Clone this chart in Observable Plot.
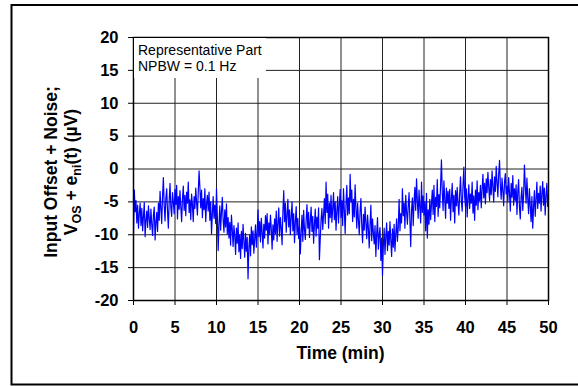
<!DOCTYPE html>
<html><head><meta charset="utf-8">
<script src="https://cdn.jsdelivr.net/npm/d3@7"></script>
<script src="https://cdn.jsdelivr.net/npm/@observablehq/plot@0.6"></script>
<style>body{margin:0;background:#fff;overflow:hidden}</style>
</head><body><div id="chart"></div>
<script>
// sampling of the trace (minutes)
const timeStart = 0;
const timeStep = 0.1;
// Input offset + noise (µV), one row per minute
const noiseValues = [
 -9.8,-3.2,-6.5,-4.8,-8.2,-5.5,-9.0,-6.8,-5.2,-8.6,
 -6.0,-9.4,-7.2,-5.1,-10.3,-7.8,-6.4,-8.9,-5.6,-7.5,
 -9.2,-6.1,-8.4,-10.1,-7.0,-5.8,-10.8,-8.2,-6.6,-9.5,
 -5.2,-7.8,-3.4,-6.0,-8.3,-4.1,-1.3,-5.6,-7.9,-4.4,
 -3.0,-6.5,-9.0,-4.8,-2.2,-5.9,-7.2,-3.6,-5.0,-6.8,
 -3.1,-5.4,-2.5,-7.6,-4.2,-6.1,-3.3,-5.8,-8.0,-4.5,
 -2.6,-6.3,-4.0,-7.1,-3.5,-5.2,-2.0,-6.6,-4.7,-7.7,
 -3.8,-5.5,-8.0,-4.2,-6.0,-2.9,-5.1,-7.0,-3.6,-0.3,
 -2.8,-5.9,-3.2,-7.4,-4.5,-6.2,-3.0,-8.0,-5.3,-4.0,
 -6.4,-3.5,-7.8,-5.0,-9.9,-6.8,-4.2,-7.5,-5.5,-8.3,
 -3.0,-7.2,-12.4,-8.5,-5.6,-9.3,-6.5,-4.3,-7.8,-9.6,
 -6.2,-8.8,-5.3,-9.9,-7.4,-10.5,-8.1,-11.6,-7.0,-9.2,
 -11.8,-8.6,-10.2,-13.0,-9.0,-11.3,-8.2,-12.6,-10.0,-13.6,
 -9.5,-12.1,-8.4,-11.0,-13.4,-9.8,-12.5,-10.4,-16.7,-12.0,
 -10.0,-13.2,-8.8,-11.5,-9.4,-12.8,-10.6,-8.5,-11.9,-9.7,
 -6.2,-10.3,-8.0,-11.1,-7.5,-9.6,-12.0,-8.4,-10.5,-7.1,
 -9.3,-6.8,-11.4,-8.2,-10.0,-7.0,-9.1,-12.2,-8.5,-10.8,
 -7.6,-9.8,-6.4,-11.0,-8.3,-5.9,-10.2,-7.4,-9.0,-11.5,
 -6.5,-3.3,-8.0,-5.2,-9.6,-7.0,-4.6,-8.8,-6.2,-10.0,
 -7.3,-5.0,-9.4,-6.8,-11.2,-8.1,-5.7,-9.9,-7.5,-10.6,
 -8.8,-12.9,-9.6,-7.0,-11.0,-6.3,-9.2,-10.7,-7.8,-5.4,
 -9.0,-6.6,-10.4,-8.0,-5.8,-9.5,-7.2,-11.3,-8.4,-6.1,
 -10.2,-7.3,-9.0,-5.9,-13.8,-10.6,-7.7,-6.0,-9.2,-7.0,
 -4.5,-8.3,-2.0,-6.6,-3.8,-9.0,-5.2,-7.4,-4.0,-8.1,
 -6.0,-3.6,-7.7,-5.0,-9.3,-6.4,-4.2,-8.2,-5.5,-3.1,
 -7.4,-4.8,-8.6,-3.0,-6.2,-9.8,-5.4,-2.5,-7.0,-4.4,
 -6.8,-0.8,-5.0,-3.2,-8.0,-4.6,-7.3,-2.4,-6.0,-9.0,
 -5.2,-7.8,-10.0,-6.3,-4.5,-8.6,-11.2,-6.9,-9.3,-5.8,
 -8.2,-10.6,-7.0,-9.0,-12.0,-8.4,-5.5,-10.9,-7.6,-9.7,
 -11.4,-8.6,-13.3,-9.8,-7.4,-12.2,-10.0,-8.9,-13.9,-10.5,
 -16.2,-11.8,-9.0,-13.0,-10.3,-8.2,-12.4,-9.5,-11.6,-8.0,
 -10.8,-13.3,-9.1,-11.9,-8.4,-12.5,-9.9,-7.6,-11.0,-8.8,
 -4.6,-9.4,-6.8,-8.2,-3.0,-7.1,-5.2,-9.0,-4.0,-6.5,
 -8.4,-5.6,-3.6,-7.8,-11.8,-6.2,-4.4,-8.6,-5.0,-2.8,
 -6.3,-1.5,-4.9,-7.5,-3.2,-5.8,-8.2,-2.0,-6.6,-4.1,
 -7.0,-5.0,-9.4,-3.7,-10.5,-6.2,-8.4,-4.6,-7.7,-5.3,
 -3.2,-6.9,-2.5,-8.0,-4.3,-5.7,-1.6,-7.2,-3.9,-5.9,
 -2.4,1.4,-3.5,-6.3,-1.8,-4.6,-7.5,-2.9,-5.2,-3.4,
 -6.0,-3.1,-7.8,-4.4,-2.2,-6.5,-4.0,-8.2,-3.3,-5.6,
 -2.8,-5.3,-7.0,-3.6,-1.2,-4.9,-6.4,-2.6,0.3,-4.2,
 -5.8,-3.0,-7.3,-4.5,-2.4,-6.0,-3.8,-5.2,-2.0,-6.7,
 -4.1,-7.8,-3.2,-5.5,-1.8,-6.2,-3.6,-4.8,-2.5,-5.9,
 -3.0,-0.8,-4.4,-2.2,-5.3,-1.5,-3.6,-0.5,-2.8,-4.8,
 -1.6,-3.9,-0.3,-2.7,-5.0,-1.2,-3.4,0.4,-2.0,-4.2,
 -0.8,1.3,-2.5,-4.6,-1.4,-3.3,-5.6,-2.0,-0.7,-3.8,
 -2.6,-5.0,-1.3,-3.7,-6.4,-2.2,-4.3,-1.0,-5.5,-3.0,
 -4.8,-2.4,-6.9,-3.5,-1.6,-5.8,-7.6,-4.2,-2.8,-6.3,
 -3.9,0.6,-2.6,-5.2,-1.4,-4.5,-6.8,-3.0,-5.6,-8.0,
 -4.2,-9.0,-5.8,-3.3,-7.2,-4.6,-2.0,-6.0,-3.7,-5.2,
 -2.6,-6.4,-3.8,-1.9,-5.5,-2.9,-7.0,-4.1,-2.2,-5.7,
 -4.0
];
const xTicks = [0, 5, 10, 15, 20, 25, 30, 35, 40, 45, 50];
const yTicks = [-20, -15, -10, -5, 0, 5, 10, 15, 20];
const xTitle = "Time (min)";
const yTitleLine1 = "Input Offset + Noise;";
const annotationLines = ["Representative Part", "NPBW = 0.1 Hz"];

const data = noiseValues.map((v, i) => ({t: timeStart + i * timeStep, v}));

const font = "'Liberation Sans', Arial, Helvetica, sans-serif";
const fmt = d => String(d);
const svg = Plot.plot({
  width: 578, height: 386,
  marginLeft: 133, marginRight: 30, marginTop: 37, marginBottom: 86,
  style: {fontFamily: font, fontSize: "16.5px", fontWeight: "bold", color: "#000", background: "#fff"},
  x: {domain: [0, 50]},
  y: {domain: [-20, 20]},
  marks: [
    Plot.ruleX(xTicks, {stroke: "#222", strokeWidth: 1}),
    Plot.ruleY(yTicks, {stroke: "#222", strokeWidth: 1}),
    Plot.line(data, {x: "t", y: "v", stroke: "#0000ff", strokeWidth: 1.2}),
    Plot.frame({stroke: "#000", strokeWidth: 1.5}),
    Plot.axisX({ticks: xTicks, tickSize: 5, tickPadding: 16, tickFormat: fmt, label: null}),
    Plot.axisY({ticks: yTicks, tickSize: 5, tickPadding: 10, tickFormat: fmt, label: null})
  ]
});
document.getElementById("chart").appendChild(svg);

const s = d3.select(svg);
// annotation box
s.append("rect").attr("x", 134).attr("y", 38).attr("width", 132).attr("height", 40).attr("fill", "#fff");
annotationLines.forEach((t, i) => {
  s.append("text").attr("x", 138).attr("y", 55 + i * 16).attr("text-anchor", "start")
    .attr("font-family", font).attr("font-size", 14).attr("font-weight", "normal").attr("fill", "#000").text(t);
});
// x title
s.append("text").attr("x", 340.5).attr("y", 359).attr("text-anchor", "middle")
  .attr("font-family", font).attr("font-size", 17.5).attr("font-weight", "bold").text(xTitle);
// y title
s.append("text").attr("transform", "translate(56.5,172) rotate(-90)").attr("text-anchor", "middle")
  .attr("font-family", font).attr("font-size", 17.5).attr("font-weight", "bold").text(yTitleLine1);
const t2 = s.append("text").attr("transform", "translate(77,172) rotate(-90)").attr("text-anchor", "middle")
  .attr("font-family", font).attr("font-size", 17.5).attr("font-weight", "bold");
t2.append("tspan").text("V");
t2.append("tspan").attr("font-size", 12.5).attr("dy", 4).text("OS");
t2.append("tspan").attr("dy", -4).text(" + e");
t2.append("tspan").attr("font-size", 12.5).attr("dy", 4).text("ni");
t2.append("tspan").attr("dy", -4).text("(t) (µV)");
// outer border
s.append("rect").attr("x", 11.5).attr("y", 5).attr("width", 620).attr("height", 379.5)
  .attr("fill", "none").attr("stroke", "#000").attr("stroke-width", 2);
</script>
</body></html>
